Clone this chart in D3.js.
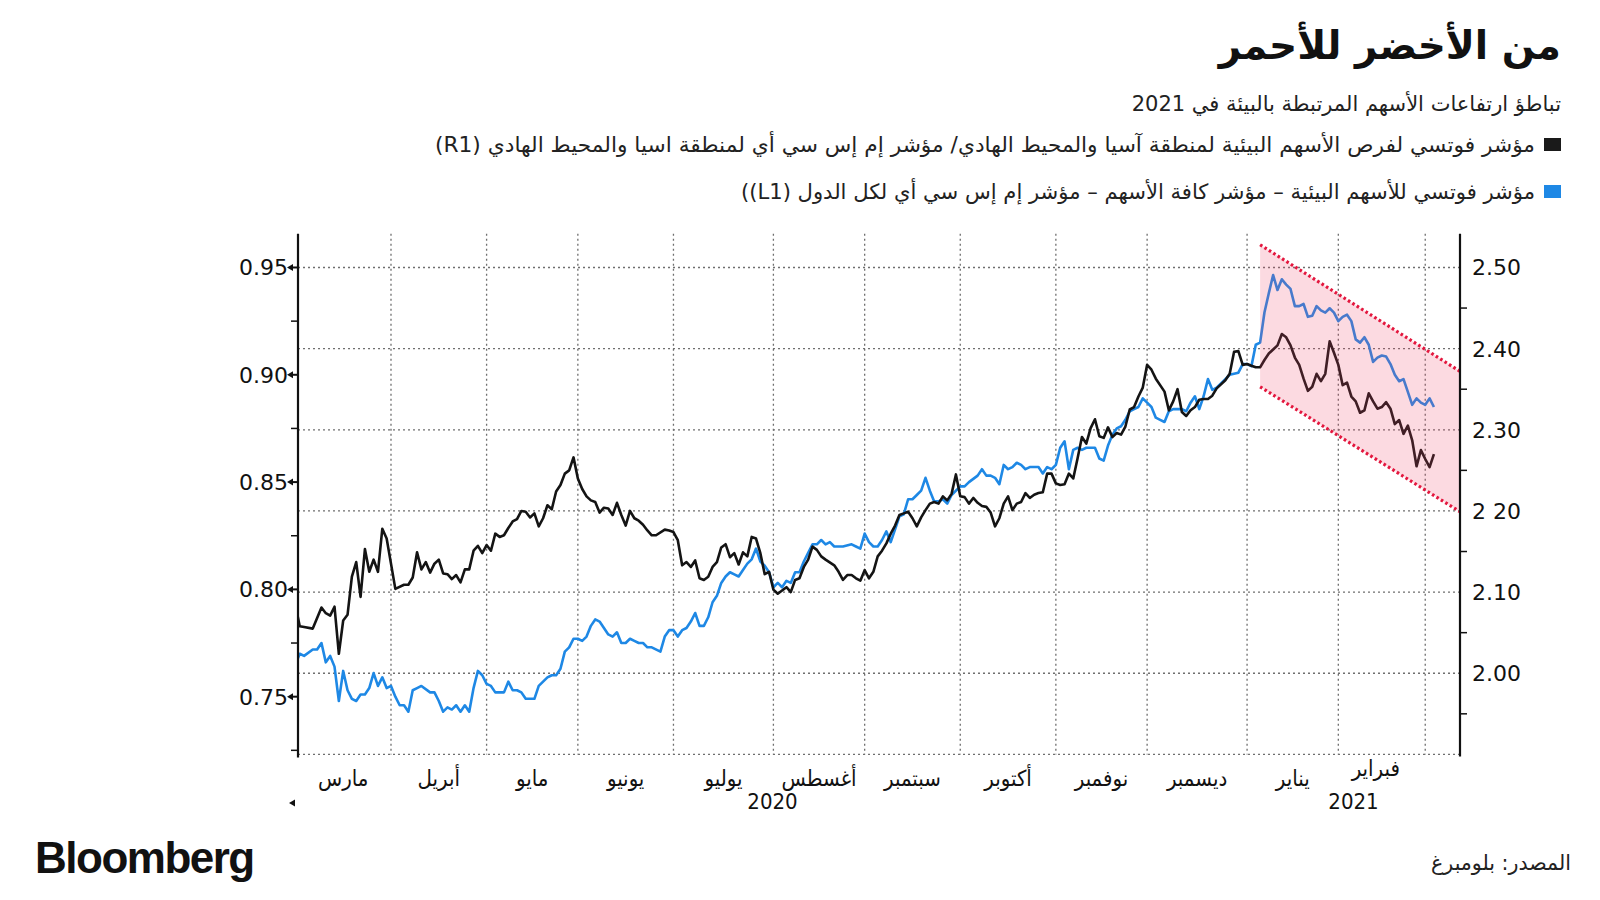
<!DOCTYPE html>
<html><head><meta charset="utf-8">
<script src="https://cdn.jsdelivr.net/npm/d3@7/dist/d3.min.js"></script>
<style>body{margin:0;background:#fff;} svg{display:block;}</style>
</head><body><svg id="chart" width="1600" height="900"></svg>
<script>
// ---------- DATA ----------
// Sessions are counted in trading days (Mon–Fri) from 2 March 2020 (= 0).
const startDate = "2020-03-02";
const monthNames = ["مارس","أبريل","مايو","يونيو","يوليو","أغسطس","سبتمبر","أكتوبر","نوفمبر","ديسمبر","يناير","فبراير"];
const yearNames = ["2020","2021"];
const leftTicks = [0.75,0.80,0.85,0.90,0.95];
const leftTickLabels = ["0.75","0.80","0.85","0.90","0.95"];
const leftMinorTicks = [0.725,0.775,0.825,0.875,0.925];
const rightTicks = [2.00,2.10,2.20,2.30,2.40,2.50];
const rightTickLabels = ["2.00","2.10","2 20","2.30","2.40","2.50"];
const rightMinorTicks = [1.95,2.05,2.15,2.25,2.35,2.45];
const gridValuesRight = [1.90,2.00,2.10,2.20,2.30,2.40,2.50];

const title = "من الأخضر للأحمر";
const subtitle = "تباطؤ ارتفاعات الأسهم المرتبطة بالبيئة في 2021";
const legendLabels = [
  "مؤشر فوتسي لفرص الأسهم البيئية لمنطقة آسيا والمحيط الهادي/ مؤشر إم إس سي أي لمنطقة اسيا والمحيط الهادي (R1)",
  "مؤشر فوتسي للأسهم البيئية – مؤشر كافة الأسهم – مؤشر إم إس سي أي لكل الدول (L1))"
];
const sourceText = "المصدر: بلومبرغ";

// Black series (right axis): [session, value]
const seriesR1 = [[0,2.084],[1,2.058],[2,2.057],[4,2.055],[6,2.081],[7,2.074],[8,2.071],[9,2.082],[10,2.024],[11,2.065],[12,2.072],[13,2.119],[14,2.137],[15,2.094],[16,2.153],[17,2.125],[18,2.140],[19,2.125],[20,2.178],[21,2.166],
[23,2.104],[25,2.109],[26,2.109],[27,2.118],[28,2.149],[29,2.128],[30,2.137],[31,2.124],[32,2.135],[33,2.140],[34,2.123],[35,2.122],[36,2.116],[37,2.121],[38,2.112],[39,2.128],[40,2.128],[41,2.151],[42,2.157],[43,2.148],[44,2.158],[45,2.151],[46,2.172],[47,2.168],[48,2.170],[49,2.179],[50,2.187],[51,2.190],[52,2.200],[53,2.199],[54,2.192],[55,2.197],[56,2.181],[57,2.191],[58,2.207],[59,2.202],[60,2.224],[61,2.232],[62,2.246],[63,2.250],[64,2.266],[65,2.240],[66,2.227],[67,2.218],[68,2.213],[69,2.211],[70,2.198],[71,2.204],[72,2.203],[73,2.195],[74,2.210],[75,2.195],[76,2.182],[77,2.200],[78,2.191],[79,2.188],[80,2.183],[81,2.176],[82,2.170],[83,2.170],[85,2.177],[86,2.176],[87,2.174],[88,2.164],[89,2.133],[90,2.137],[91,2.131],[92,2.139],[93,2.117],[94,2.115],[95,2.119],[96,2.131],[97,2.137],[98,2.155],[99,2.159],[100,2.143],[101,2.148],[102,2.134],[103,2.149],[104,2.144],[105,2.168],[106,2.166],[107,2.148],[108,2.122],[109,2.125],[110,2.103],[111,2.098],[112,2.102],[113,2.106],[114,2.100],[115,2.115],[116,2.117],[117,2.131],[118,2.140],[119,2.156],[120,2.152],[121,2.144],[122,2.140],[124,2.133],[125,2.125],[126,2.115],[127,2.121],[128,2.121],[129,2.117],[130,2.114],[131,2.127],[132,2.117],[133,2.125],[134,2.144],[135,2.151],[136,2.160],[137,2.172],[138,2.182],[139,2.195],[140,2.197],[141,2.199],[142,2.191],[143,2.181],[144,2.192],[145,2.201],[146,2.209],[147,2.211],[148,2.209],[149,2.218],[150,2.213],[151,2.221],[152,2.245],[153,2.218],[154,2.217],[155,2.209],[156,2.216],[157,2.210],[158,2.206],[159,2.205],[160,2.198],[161,2.181],[162,2.191],[163,2.209],[164,2.218],[165,2.201],[166,2.209],[167,2.211],[168,2.222],[169,2.216],[170,2.220],[171,2.222],[172,2.223],[173,2.246],[174,2.246],[175,2.234],[176,2.232],[177,2.233],[178,2.246],[179,2.240],[180,2.265],[181,2.291],[182,2.283],[183,2.302],[184,2.313],[185,2.292],[186,2.290],[187,2.303],[188,2.291],[189,2.296],[190,2.294],[191,2.304],[192,2.325],[193,2.328],[194,2.341],[195,2.352],[196,2.380],[197,2.374],[198,2.363],[200,2.347],[201,2.324],[202,2.335],[203,2.350],[204,2.322],[205,2.317],[206,2.324],[207,2.328],[208,2.337],[209,2.338],[210,2.338],[211,2.342],[212,2.351],[213,2.356],[214,2.361],[215,2.369],[216,2.396],[217,2.397],[218,2.380],[219,2.381],[220,2.379],[221,2.377],[222,2.377],[223,2.386],[224,2.394],[225,2.399],[226,2.404],[227,2.418],[228,2.414],[229,2.404],[230,2.389],[231,2.380],[232,2.363],[233,2.348],[234,2.353],[235,2.369],[236,2.360],[237,2.369],[238,2.409],[239,2.395],[240,2.380],[241,2.355],[242,2.358],[243,2.341],[244,2.335],[245,2.321],[246,2.324],[247,2.345],[248,2.335],[249,2.326],[250,2.328],[251,2.334],[252,2.326],[253,2.307],[254,2.312],[255,2.295],[256,2.305],[257,2.287],[258,2.255],[259,2.275],[260,2.264],[261,2.254],[262,2.270]];

// Blue series (left axis): [session, value]
const seriesL1 = [[0,0.765],[1,0.770],[2,0.769],[4,0.772],[5,0.772],[6,0.775],[7,0.766],[8,0.769],[9,0.764],[10,0.748],[11,0.762],[12,0.753],[13,0.749],[14,0.748],[15,0.751],[16,0.751],[17,0.754],[18,0.761],[19,0.755],[20,0.759],[21,0.754],[22,0.755],[23,0.750],[24,0.746],[25,0.746],[26,0.743],[27,0.753],[28,0.754],[29,0.755],[31,0.752],[32,0.752],[33,0.748],[34,0.743],[35,0.745],[36,0.744],[37,0.746],[38,0.743],[39,0.746],[40,0.743],[41,0.754],[42,0.762],[43,0.760],[44,0.756],[45,0.755],[46,0.752],[47,0.752],[48,0.752],[49,0.757],[50,0.753],[51,0.753],[52,0.752],[53,0.749],[55,0.749],[56,0.755],[57,0.757],[58,0.759],[59,0.760],[60,0.760],[61,0.763],[62,0.771],[63,0.773],[64,0.777],[65,0.777],[66,0.776],[67,0.778],[68,0.783],[69,0.786],[70,0.785],[71,0.782],[72,0.779],[73,0.778],[74,0.780],[75,0.775],[76,0.775],[77,0.777],[78,0.776],[79,0.775],[80,0.775],[81,0.773],[82,0.773],[84,0.771],[85,0.778],[86,0.781],[87,0.781],[88,0.778],[89,0.781],[90,0.782],[91,0.785],[92,0.789],[93,0.783],[94,0.783],[95,0.787],[96,0.794],[97,0.797],[98,0.803],[99,0.806],[100,0.808],[101,0.807],[102,0.806],[103,0.809],[104,0.812],[105,0.814],[106,0.819],[107,0.813],[108,0.811],[109,0.808],[110,0.801],[111,0.803],[112,0.801],[113,0.804],[114,0.803],[115,0.808],[116,0.808],[117,0.813],[118,0.817],[119,0.821],[120,0.821],[121,0.823],[122,0.821],[123,0.822],[124,0.820],[125,0.820],[126,0.820],[128,0.821],[129,0.820],[130,0.819],[131,0.826],[132,0.822],[133,0.820],[134,0.820],[135,0.823],[136,0.827],[137,0.822],[138,0.828],[139,0.834],[140,0.835],[141,0.842],[142,0.842],[143,0.844],[144,0.846],[145,0.852],[146,0.846],[147,0.841],[148,0.841],[149,0.842],[150,0.840],[151,0.844],[153,0.848],[154,0.848],[155,0.850],[157,0.853],[158,0.856],[159,0.853],[160,0.853],[161,0.852],[162,0.849],[163,0.858],[164,0.856],[165,0.857],[166,0.859],[167,0.858],[168,0.856],[169,0.857],[170,0.857],[171,0.857],[172,0.854],[173,0.857],[174,0.856],[175,0.858],[176,0.866],[177,0.869],[178,0.856],[179,0.865],[180,0.866],[181,0.865],[182,0.866],[184,0.866],[185,0.861],[186,0.860],[187,0.867],[188,0.872],[189,0.875],[190,0.876],[191,0.879],[192,0.883],[193,0.884],[194,0.885],[195,0.889],[196,0.887],[197,0.885],[198,0.880],[199,0.879],[200,0.878],[201,0.883],[202,0.884],[203,0.884],[204,0.884],[205,0.883],[206,0.887],[207,0.890],[208,0.884],[209,0.890],[210,0.898],[211,0.893],[212,0.894],[213,0.896],[214,0.898],[215,0.900],[217,0.901],[218,0.905],[219,0.905],[220,0.904],[221,0.914],[222,0.915],[223,0.929],[224,0.938],[225,0.9465],[226,0.9395],[227,0.9445],[228,0.942],[229,0.940],[230,0.932],[231,0.932],[232,0.933],[233,0.927],[234,0.9275],[235,0.932],[236,0.930],[237,0.929],[238,0.931],[239,0.929],[240,0.925],[241,0.927],[242,0.928],[243,0.925],[244,0.9165],[245,0.915],[246,0.9175],[247,0.914],[248,0.906],[249,0.908],[250,0.909],[251,0.9085],[252,0.905],[253,0.900],[254,0.897],[255,0.898],[256,0.892],[257,0.886],[258,0.889],[259,0.887],[260,0.886],[261,0.889],[262,0.885]];

// Downward channel (right-axis values) drawn from 6 Jan 2021 to the axis end
const channelSessions = [222, 268];
const channelUpper = [2.528, 2.372];
const channelLower = [2.353, 2.199];

// ---------- CALENDAR ----------
const days = [];
{
  const d = new Date(startDate + "T00:00:00Z");
  while (days.length < 270) {
    const wd = d.getUTCDay();
    if (wd !== 0 && wd !== 6) days.push(new Date(d));
    d.setUTCDate(d.getUTCDate() + 1);
  }
}
const monthStarts = [];
days.forEach((d, i) => {
  if (i === 0 || d.getUTCMonth() !== days[i - 1].getUTCMonth()) monthStarts.push(i);
});

// ---------- SCALES ----------
const L = 298, R = 1460, T = 233.8, B = 754.4;
const x = d3.scaleLinear().domain([0.6, 268]).range([L, R]);
const yL = d3.scaleLinear().domain([0.7231, 0.9657]).range([B, T]);
const yR = d3.scaleLinear().domain([1.90, 2.5415]).range([B, T]);

const svg = d3.select("#chart");
const arFont = "'DejaVu Sans', 'Noto Sans', sans-serif";
const condFont = "'DejaVu Sans Condensed', 'DejaVu Sans', sans-serif";

// RTL text anchored at its right edge
function rtlText(g, xr, y, size, txt, opts = {}) {
  const t = g.append("text").attr("x", xr).attr("y", y)
    .attr("direction", "rtl").attr("text-anchor", "start")
    .attr("font-family", opts.font || arFont).attr("font-weight", opts.weight || "normal")
    .attr("font-size", size).attr("fill", opts.fill || "#222").text(txt);
  if (opts.len) t.attr("textLength", opts.len).attr("lengthAdjust", "spacingAndGlyphs");
  return t;
}

// ---------- TITLES ----------
rtlText(svg, 1561, 59, 39, title, { weight: "bold", fill: "#111" });
rtlText(svg, 1561, 111, 21, subtitle);

const legendColors = ["#1a1a1a", "#1e88e5"];
const legendY = [144.5, 191.5];
const legendLen = [1100, 794];
legendLabels.forEach((lab, i) => {
  svg.append("rect").attr("x", 1544).attr("y", legendY[i] - 6.5).attr("width", 17).attr("height", 13)
    .attr("fill", legendColors[i]);
  rtlText(svg, 1535, legendY[i] + 7, 21, lab, { len: legendLen[i] });
});

// ---------- GRID ----------
const grid = svg.append("g").attr("stroke", "#6f6f6f").attr("stroke-width", 1.3)
  .attr("stroke-dasharray", "2,3");
grid.selectAll("line.h").data(gridValuesRight).join("line")
  .attr("x1", L).attr("x2", R).attr("y1", d => yR(d)).attr("y2", d => yR(d));
grid.selectAll("line.v").data(monthStarts.slice(1)).join("line")
  .attr("x1", d => x(d)).attr("x2", d => x(d)).attr("y1", T).attr("y2", B);

// ---------- LINES ----------
svg.append("clipPath").attr("id", "plotclip").append("rect")
  .attr("x", L).attr("y", T - 5).attr("width", R - L).attr("height", B - T + 10);
const lineL = d3.line().x(d => x(d[0])).y(d => yL(d[1]));
const lineR = d3.line().x(d => x(d[0])).y(d => yR(d[1]));
const plot = svg.append("g").attr("clip-path", "url(#plotclip)");
plot.append("path").datum(seriesL1).attr("d", lineL).attr("fill", "none")
  .attr("stroke", "#1e88e5").attr("stroke-width", 2.6).attr("stroke-linejoin", "round");
plot.append("path").datum(seriesR1).attr("d", lineR).attr("fill", "none")
  .attr("stroke", "#141414").attr("stroke-width", 2.6).attr("stroke-linejoin", "round");

// ---------- CHANNEL ----------
const chPts = [
  [channelSessions[0], channelUpper[0]], [channelSessions[1], channelUpper[1]],
  [channelSessions[1], channelLower[1]], [channelSessions[0], channelLower[0]]
];
svg.append("path")
  .attr("d", "M" + chPts.map(p => x(p[0]) + "," + yR(p[1])).join("L") + "Z")
  .attr("fill", "rgba(240,70,105,0.2)");
[channelUpper, channelLower].forEach(arr => {
  svg.append("line")
    .attr("x1", x(channelSessions[0])).attr("y1", yR(arr[0]))
    .attr("x2", x(channelSessions[1])).attr("y2", yR(arr[1]))
    .attr("stroke", "#e3173e").attr("stroke-width", 3.2).attr("stroke-dasharray", "2.6,2.6");
});

// ---------- AXES ----------
const ax = svg.append("g");
ax.append("line").attr("x1", L).attr("x2", L).attr("y1", T).attr("y2", B + 3)
  .attr("stroke", "#111").attr("stroke-width", 2.2);
ax.append("line").attr("x1", R).attr("x2", R).attr("y1", T).attr("y2", B + 2)
  .attr("stroke", "#111").attr("stroke-width", 2.2);
leftTicks.forEach((v, i) => {
  const y = yL(v);
  ax.append("path").attr("d", `M${L - 11},${y} L${L - 5},${y - 3.5} L${L - 5},${y + 3.5} Z`).attr("fill", "#111");
  ax.append("line").attr("x1", L - 6).attr("x2", L).attr("y1", y).attr("y2", y).attr("stroke", "#111").attr("stroke-width", 2);
  ax.append("text").attr("x", L - 10).attr("y", y).attr("dy", "0.36em").attr("text-anchor", "end")
    .attr("font-family", "'DejaVu Sans', Verdana, sans-serif").attr("font-size", 22).attr("fill", "#111")
    .text(leftTickLabels[i]);
});
leftMinorTicks.forEach(v => {
  ax.append("line").attr("x1", L - 7).attr("x2", L).attr("y1", yL(v)).attr("y2", yL(v))
    .attr("stroke", "#111").attr("stroke-width", 1.5);
});
rightTicks.forEach((v, i) => {
  ax.append("text").attr("x", 1472).attr("y", yR(v)).attr("dy", "0.36em").attr("text-anchor", "start")
    .attr("font-family", "'DejaVu Sans', Verdana, sans-serif").attr("font-size", 22).attr("fill", "#111")
    .text(rightTickLabels[i]);
});
rightMinorTicks.forEach(v => {
  ax.append("line").attr("x1", R).attr("x2", R + 7).attr("y1", yR(v)).attr("y2", yR(v))
    .attr("stroke", "#111").attr("stroke-width", 1.5);
});

// month labels
monthNames.forEach((m, i) => {
  const a = monthStarts[i], b = monthStarts[i + 1];
  const raised = (i === monthNames.length - 1);
  ax.append("text").attr("x", x((a + b) / 2) - (raised ? 6 : 0)).attr("y", raised ? 776 : 786)
    .attr("text-anchor", "middle").attr("direction", "rtl").attr("font-family", condFont)
    .attr("font-size", 22).attr("fill", "#111").text(m);
});
// year labels centred on each year's visible span
const yearStartIdx = days.findIndex(d => d.getUTCFullYear() === 2021);
const yearSpans = [[x.domain()[0], yearStartIdx], [yearStartIdx, x.domain()[1]]];
yearNames.forEach((yname, i) => {
  ax.append("text").attr("x", (x(yearSpans[i][0]) + x(yearSpans[i][1])) / 2).attr("y", 809)
    .attr("text-anchor", "middle").attr("font-family", condFont)
    .attr("font-size", 22).attr("fill", "#111").text(yname);
});
ax.append("path").attr("d", "M289,803 L295,799.5 L295,806.5 Z").attr("fill", "#111");

// ---------- FOOTER ----------
svg.append("text").attr("x", 35).attr("y", 873).attr("font-family", "'Liberation Sans', Arial, sans-serif")
  .attr("font-weight", "bold").attr("font-size", 44).attr("letter-spacing", -1.5).attr("fill", "#111").text("Bloomberg");
rtlText(svg, 1571, 870, 21, sourceText, { font: condFont, len: 140 });
</script></body></html>
